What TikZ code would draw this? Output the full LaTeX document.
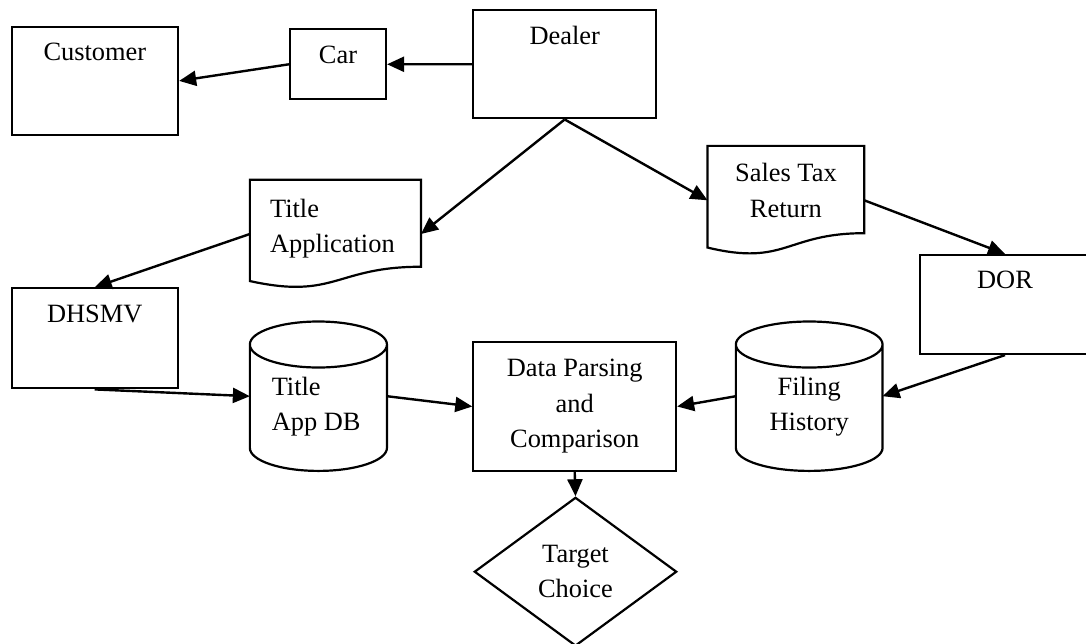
\documentclass[tikz,border=0pt]{standalone}
\usepackage{fontspec}
\setmainfont{Liberation Serif}
\usetikzlibrary{arrows.meta,shapes.geometric,calc}

% sheet of paper with a wavy lower edge
\newcommand{\docpage}[1]{%
  \draw[outline] let \p1=(#1.north west), \p2=(#1.south east),
      \n1={\x2-\x1}, \n2={\y1-\y2} in
    (\p1) -- (\x2,\y1) -- (\x2,\y1-0.802*\n2)
    .. controls (\x1+0.5*\n1,\y1-0.802*\n2) and (\x1+0.5*\n1,\y1-1.1075*\n2) ..
    (\x1,\y1-0.934*\n2) -- cycle;}

% database drum
\newcommand{\dbdrum}[1]{%
  \draw[outline] let \p1=(#1.north west), \p2=(#1.south east),
      \n1={(\x2-\x1)/2} in
    (\x1,\y1-23pt) arc[start angle=180, end angle=-180, x radius=\n1, y radius=23pt]
    (\x1,\y1-23pt) -- (\x1,\y2+23pt)
    arc[start angle=180, end angle=360, x radius=\n1, y radius=23pt] -- (\x2,\y1-23pt);}

\begin{document}
\begin{tikzpicture}[x=1pt,y=1pt,>={Triangle[length=17pt,width=15pt]},
  every node/.style={font=\fontsize{26.4}{35.5}\selectfont, inner sep=0pt},
  outline/.style={line width=2.2pt},
  box/.style={draw, line width=2.2pt},
  lbl/.style={anchor=north, align=center, yshift=-17.5pt},
  conn/.style={->, line width=2.4pt}]
  \useasboundingbox (0, 0) rectangle (1086, -643);

  \node[box, minimum width=166.3pt, minimum height=108.3pt, label={[lbl]north:Customer}] at (94.9, -80.9) (customer) {};
  \node[box, minimum width=96pt, minimum height=70pt, label={[lbl]north:Car}] at (338, -64.3) (car) {};
  \node[box, minimum width=182.7pt, minimum height=108.3pt, label={[lbl]north:Dealer}] at (564.7, -64.2) (dealer) {};

  \node[minimum width=170.7pt, minimum height=108pt,
    label={[lbl, anchor=north west, align=left, xshift=20pt, yshift=-1.2pt]north west:{Title\\Application}}] at (335.4, -234) (tapp) {};
  \node[minimum width=156.3pt, minimum height=108.5pt,
    label={[lbl]north:{Sales Tax\\Return}}] at (785.9, -200.3) (str) {};

  \node[box, minimum width=170pt, minimum height=99pt, label={[lbl, yshift=0.7pt]north:DOR}] at (1005, -304.5) (dor) {};
  \node[box, minimum width=166pt, minimum height=100pt, label={[lbl]north:DHSMV}] at (94.7, -338.3) (dhsmv) {};

  \node[minimum width=136.7pt, minimum height=149pt,
    label={[lbl, anchor=north west, align=left, xshift=21.7pt, yshift=-37.8pt]north west:{Title\\App DB}}] at (318.4, -396.2) (tadb) {};
  \node[box, minimum width=202.7pt, minimum height=128.4pt,
    label={[lbl, yshift=-0.5pt]north:{Data Parsing\\and\\Comparison}}] at (574.7, -406.5) (dpc) {};
  \node[minimum width=146.3pt, minimum height=149pt,
    label={[lbl, yshift=-37.8pt]north:{Filing\\History}}] at (809.2, -396.2) (fh) {};

  \node[draw, line width=2.2pt, shape=diamond, aspect=1.36, align=center,
    minimum width=202.4pt, minimum height=148.7pt] at (575.5, -571.7) (target) {Target\\Choice};

  \docpage{tapp}
  \docpage{str}
  \dbdrum{tadb}
  \dbdrum{fh}

  \draw (dealer) edge[conn] (car);
  \draw (car.west) edge[conn] (customer.east);

  \draw (dealer.south) edge[conn] (tapp.east);
  \draw (dealer.south) edge[conn] (str.west);
  \draw (str.east) edge[conn] (dor.north);
  \draw (tapp.west) edge[conn] (dhsmv.north);

  \draw (dhsmv.south) edge[conn] (tadb.west);
  \draw (tadb.east) edge[conn] (dpc.west);
  \draw (fh.west) edge[conn] (dpc.east);
  \draw (dor.south) edge[conn] (fh.east);
  \draw (dpc.south) edge[conn] (target.north);
\end{tikzpicture}
\end{document}
